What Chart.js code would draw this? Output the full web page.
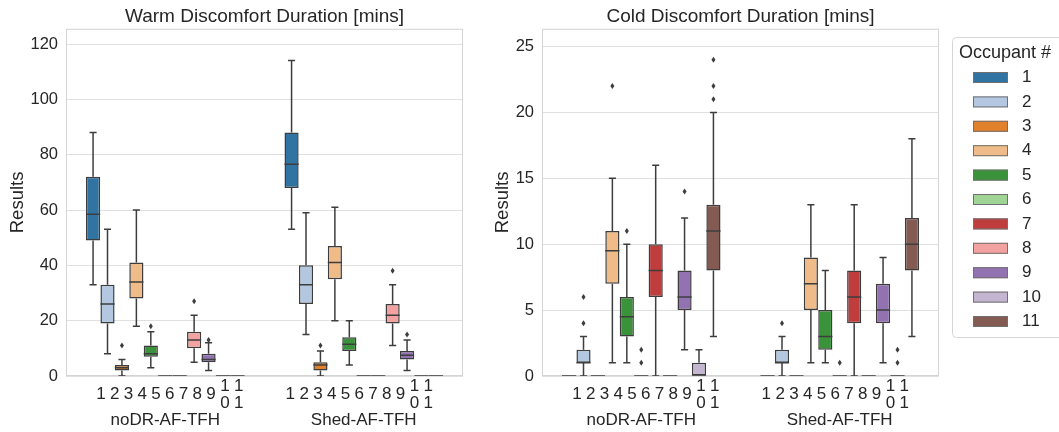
<!DOCTYPE html>
<html>
<head>
<meta charset="utf-8">
<script src="https://cdn.jsdelivr.net/npm/chart.js@4.4.1/dist/chart.umd.min.js"></script>
<style>
  body { margin: 0; background: #fff; }
  #wrap { position: relative; width: 1059px; height: 432px; overflow: hidden; }
  canvas { position: absolute; top: 0; }
  #warm { left: 0; }
  #cold { left: 480px; }
</style>
</head>
<body>
<div id="wrap">
  <canvas id="warm" width="480" height="432"></canvas>
  <canvas id="cold" width="579" height="432"></canvas>
</div>
<script>
// categories
const scenarios = ['noDR-AF-TFH', 'Shed-AF-TFH'];
const occupants = ['1', '2', '3', '4', '5', '6', '7', '8', '9', '10', '11'];
// sub labels under every box (10 and 11 are written stacked)
const subLabels = ['1', '2', '3', '4', '5', '6', '7', '8', '9', ['1', '0'], ['1', '1']];

// box stats per occupant: [whisker low, q1, median, q3, whisker high]
const warmNoDR = [
  [33, 49, 58.5, 72, 88], [8, 19, 26, 33, 53], [0, 2, 3, 4, 6], [18, 28, 34, 41, 60],
  [3, 7, 8, 11, 16], [0, 0, 0, 0, 0], [0, 0, 0, 0, 0], [5, 10, 13, 16, 22],
  [2, 5, 6, 8, 12], [0, 0, 0, 0, 0], [0, 0, 0, 0, 0]
];
const warmNoDROut = [[], [], [11], [], [18], [], [], [27], [13], [], []];
const warmShed = [
  [53, 68, 76.5, 88, 114], [15, 26, 33, 40, 59], [0, 2, 4, 5, 9], [20, 35, 41, 47, 61],
  [4, 9, 11.5, 14, 20], [0, 0, 0, 0, 0], [0, 0, 0, 0, 0], [11, 19, 22, 26, 33],
  [2, 6, 7.5, 9, 13], [0, 0, 0, 0, 0], [0, 0, 0, 0, 0]
];
const warmShedOut = [[], [], [11], [], [], [], [], [38], [15], [], []];

const coldNoDR = [
  [0, 0, 0, 0, 0], [0, 1, 1, 2, 3], [0, 0, 0, 0, 0], [1, 7, 9.5, 11, 15],
  [1, 3, 4.5, 6, 10], [0, 0, 0, 0, 0], [0, 6, 8, 10, 16], [0, 0, 0, 0, 0],
  [2, 5, 6, 8, 12], [0, 0, 0, 1, 2], [3, 8, 11, 13, 20]
];
const coldNoDROut = [[], [4, 6], [], [22], [11], [1, 2], [], [], [14], [], [21, 22, 24]];
const coldShed = [
  [0, 0, 0, 0, 0], [0, 1, 1, 2, 3], [0, 0, 0, 0, 0], [1, 5, 7, 9, 13],
  [1, 2, 3, 5, 8], [0, 0, 0, 0, 0], [0, 4, 6, 8, 13], [0, 0, 0, 0, 0],
  [1, 4, 5, 7, 9], [0, 0, 0, 0, 0], [3, 8, 10, 12, 18]
];
const coldShedOut = [[], [4], [], [], [], [1], [], [], [], [1, 2], []];

const boxColors = ['#3274a1', '#b3c7e1', '#e1812c', '#eebb89', '#3a923a', '#9fd495',
  '#c03d3e', '#f2a3a1', '#9372b2', '#c4b5d0', '#845b53'];
const lineColor = '#3d3d3d';
const gridColor = '#e0e0e0';
const textColor = '#262626';

Chart.defaults.font.family = "'Liberation Sans', Arial, sans-serif";
Chart.defaults.color = textColor;

// where the sub labels sit (same spots as the grouped bars)
const tickPositions = [];
scenarios.forEach((s, g) => {
  occupants.forEach((o, h) => tickPositions.push(g - 0.4 + (h + 0.5) * 0.8 / occupants.length));
});

function makeDatasets(noDR, shed, noDROut, shedOut) {
  return occupants.map((name, k) => ({
    label: name,
    xAxisID: 'x',
    yAxisID: 'y',
    data: [[noDR[k][1], noDR[k][3]], [shed[k][1], shed[k][3]]],
    stats: [noDR[k], shed[k]],
    outliers: [noDROut[k], shedOut[k]],
    backgroundColor: boxColors[k],
    borderColor: lineColor,
    borderWidth: 1.5,
    borderSkipped: false,
    categoryPercentage: 0.8,
    barPercentage: 0.98
  }));
}

function makeScales(yMax, yStep, yWidth, titlePad) {
  return {
    x: {
      type: 'category', position: 'bottom', weight: 1, offset: true,
      grid: { display: false, drawTicks: false }, border: { display: false },
      ticks: { font: { size: 17 }, padding: 0 },
      afterFit(s) { s.height = 22; }
    },
    xs: {
      type: 'linear', position: 'bottom', weight: 0, min: -0.5, max: 1.5, bounds: 'data',
      grid: { display: false, drawTicks: false }, border: { display: false },
      afterBuildTicks(s) { s.ticks = tickPositions.map(v => ({ value: v })); },
      ticks: {
        autoSkip: false, maxRotation: 0, minRotation: 0, padding: 10, crossAlign: 'center',
        font: { size: 17, lineHeight: 1.02 },
        callback: (v, i) => subLabels[i % subLabels.length]
      },
      afterFit(s) { s.height = 34; }
    },
    y: {
      min: 0, max: yMax,
      grid: { color: gridColor, drawTicks: false },
      border: { display: false },
      ticks: { stepSize: yStep, includeBounds: false, padding: 8, font: { size: 16.5 } },
      title: { display: true, text: 'Results', font: { size: 18.5 }, padding: { top: titlePad, bottom: 0 } },
      afterFit(s) { s.width = yWidth; }
    }
  };
}

// light frame round the plot area
const framePlugin = {
  id: 'frame',
  beforeDatasetsDraw(chart) {
    const a = chart.chartArea, ctx = chart.ctx;
    ctx.save();
    ctx.strokeStyle = '#d4d4d4';
    ctx.lineWidth = 1;
    ctx.strokeRect(a.left + 0.5, a.top + 0.5, a.right - a.left - 1, a.bottom - a.top - 1);
    ctx.restore();
  }
};

// whiskers, caps, medians and fliers on top of the floating bars
const whiskerPlugin = {
  id: 'whiskers',
  afterDatasetsDraw(chart) {
    const ctx = chart.ctx, y = chart.scales.y, a = chart.chartArea;
    ctx.save();
    ctx.beginPath();
    ctx.rect(a.left, a.top, a.right - a.left, a.bottom - a.top);
    ctx.clip();
    ctx.strokeStyle = lineColor;
    ctx.fillStyle = lineColor;
    ctx.lineWidth = 1.5;
    const seg = (x1, v1, x2, v2) => {
      ctx.beginPath();
      ctx.moveTo(x1, y.getPixelForValue(v1));
      ctx.lineTo(x2, y.getPixelForValue(v2));
      ctx.stroke();
    };
    chart.data.datasets.forEach((ds, i) => {
      chart.getDatasetMeta(i).data.forEach((bar, j) => {
        const [lo, q1, med, q3, hi] = ds.stats[j];
        const x = bar.x, half = bar.width / 2, cap = bar.width / 4;
        if (lo < q1) { seg(x, q1, x, lo); seg(x - cap, lo, x + cap, lo); }
        if (hi > q3) { seg(x, q3, x, hi); seg(x - cap, hi, x + cap, hi); }
        seg(x - half, med, x + half, med);
        ds.outliers[j].forEach(v => {
          const py = y.getPixelForValue(v);
          ctx.beginPath();
          ctx.moveTo(x, py - 3);
          ctx.lineTo(x + 2, py);
          ctx.lineTo(x, py + 3);
          ctx.lineTo(x - 2, py);
          ctx.closePath();
          ctx.fill();
        });
      });
    });
    ctx.restore();
  }
};

// legend box to the right of the cold chart
const legendPlugin = {
  id: 'occupantLegend',
  afterDraw(chart) {
    const ctx = chart.ctx;
    const x0 = chart.chartArea.right + 13, y0 = 37;
    ctx.save();
    ctx.beginPath();
    ctx.roundRect(x0 + 0.5, y0 + 0.5, 140, 300, 4);
    ctx.fillStyle = '#ffffff';
    ctx.fill();
    ctx.strokeStyle = '#d6d6d6';
    ctx.lineWidth = 1;
    ctx.stroke();
    ctx.fillStyle = textColor;
    ctx.textBaseline = 'middle';
    ctx.font = "18px 'Liberation Sans', Arial, sans-serif";
    ctx.fillText('Occupant #', x0 + 7, y0 + 16);
    ctx.font = "17px 'Liberation Sans', Arial, sans-serif";
    chart.data.datasets.forEach((ds, i) => {
      const cy = 77.5 + i * 24.4;
      ctx.fillStyle = ds.backgroundColor;
      ctx.fillRect(x0 + 21, cy - 5.5, 35, 11);
      ctx.strokeStyle = '#707070';
      ctx.strokeRect(x0 + 21.5, cy - 5, 34, 10);
      ctx.fillStyle = textColor;
      ctx.fillText(ds.label, x0 + 70, cy);
    });
    ctx.restore();
  }
};

function makeChart(id, title, datasets, yMax, yStep, yWidth, titlePad, padRight, extra) {
  return new Chart(document.getElementById(id), {
    type: 'bar',
    data: { labels: scenarios, datasets: datasets },
    options: {
      responsive: false,
      animation: false,
      layout: { padding: { right: padRight } },
      plugins: {
        legend: { display: false },
        tooltip: { enabled: false },
        title: {
          display: true, text: title, fullSize: false,
          font: { size: 19, weight: 'normal' }, padding: { top: 5, bottom: 1 }
        }
      },
      scales: makeScales(yMax, yStep, yWidth, titlePad)
    },
    plugins: [framePlugin, whiskerPlugin].concat(extra)
  });
}

makeChart('warm', 'Warm Discomfort Duration [mins]',
  makeDatasets(warmNoDR, warmShed, warmNoDROut, warmShedOut), 125.5, 20, 66, 7, 17, []);
makeChart('cold', 'Cold Discomfort Duration [mins]',
  makeDatasets(coldNoDR, coldShed, coldNoDROut, coldShedOut), 26.35, 5, 62, 12, 120, [legendPlugin]);
</script>
</body>
</html>
